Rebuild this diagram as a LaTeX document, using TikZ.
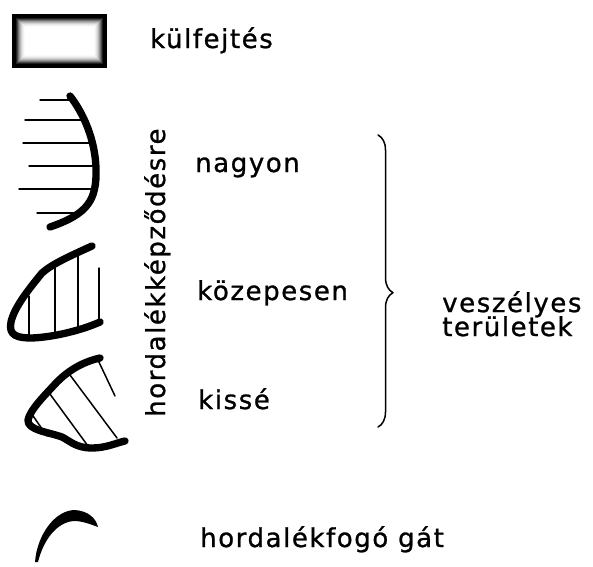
\documentclass[tikz,border=0pt]{standalone}
\usepackage{fontspec}
\newfontfamily\legendfont[LetterSpace=6,FakeBold=1]{DejaVu Sans}
\usetikzlibrary{calc,decorations.pathreplacing}

\begin{document}
\begin{tikzpicture}[
  x={(0.3mm,0mm)},
  y={(0mm,-0.3mm)},
  line join=round,
  line cap=round,
  rim/.style={draw=black,line width=2.2mm},
  hatch/.style={draw=black,line width=0.45mm},
  bracket/.style={draw=black,line width=0.45mm},
  txt/.style={font=\legendfont\fontsize{22.2}{26}\selectfont,inner sep=0pt,anchor=base west}
]
  \useasboundingbox (0,0) rectangle (593,566);

  % Open pit: dark rim fading to a pale centre.
  \coordinate (pitA) at (12,12);
  \coordinate (pitB) at (107,68);
  \foreach \i/\c in {0/100,3/100,4/88,5/72,6/55,7/40,8/28,9/18,10/10,11/5,12/2,13/0} {
    \fill[black!\c] ($(pitA)+(\i,\i+1.5)$) rectangle ($(pitB)-(\i,\i)$);
  }

  % Strong silting: horizontal hatching behind the bank line.
  \foreach \y/\xa/\xb in {100/40/72,120/25/81,143/23/90,166/29/96,189/19/96,213/37/83} {
    \draw[hatch] (\xa,\y) -- (\xb,\y);
  }
  \draw[rim] (70,96) .. controls (84,114) and (95,140) .. (96,168)
    .. controls (97,200) and (88,214) .. (50,227);

  % Medium silting: vertical hatching.
  \foreach \x/\ya/\yb in {29/296/338,55/268/335,78/256/329,99/268/322} {
    \draw[hatch] (\x,\ya) -- (\x,\yb);
  }
  \draw[rim] (92,246) .. controls (70,256) and (52,264) .. (42,273)
    .. controls (28,290) and (14,308) .. (11,322)
    .. controls (8,336) and (18,338) .. (32,338)
    .. controls (55,337) and (82,330) .. (100,322);

  % Slight silting: diagonal hatching.
  \foreach \xa/\ya/\xb/\yb in {98/360/115/396,67/371/117/438,47/390/88/446,31/413/47/436} {
    \draw[hatch] (\xa,\ya) -- (\xb,\yb);
  }
  \draw[rim] (100,358) .. controls (82,362) and (68,371) .. (57,382)
    .. controls (44,396) and (30,410) .. (28,420)
    .. controls (27,430) and (48,432) .. (62,437)
    .. controls (70,441) and (76,448) .. (92,448)
    .. controls (106,448) and (116,443) .. (125,441);

  % Check dam: a crescent.
  \fill[black] (35,562) .. controls (37,535) and (55,510) .. (75,510)
    .. controls (88,511) and (96,518) .. (98,527)
    .. controls (90,524) and (82,521) .. (74,521)
    .. controls (58,522) and (44,538) .. (38,562) -- cycle;

  % Legend texts.
  \node[txt] (pit) at (150,48) {külfejtés};
  \node[txt] (high) at (195,172) {nagyon};
  \node[txt] (mid) at (197,300) {közepesen};
  \node[txt] (low) at (198,409) {kissé};
  \node[txt] (dam) at (200,547) {hordalékfogó gát};
  \node[txt,rotate=90] (silt) at (165,417) {hordalékképződésre};
  \node[txt] (danger) at (442,312) {veszélyes};
  \node[txt] (area) at (442,336) {területek};

  % Brace grouping the three classes.
  \coordinate (braceTop) at (378,135);
  \coordinate (braceBot) at (378,427);
  \draw[bracket,decorate,decoration={brace,amplitude=4.5mm,aspect=0.54}]
    (braceTop) -- (braceBot);
\end{tikzpicture}
\end{document}
